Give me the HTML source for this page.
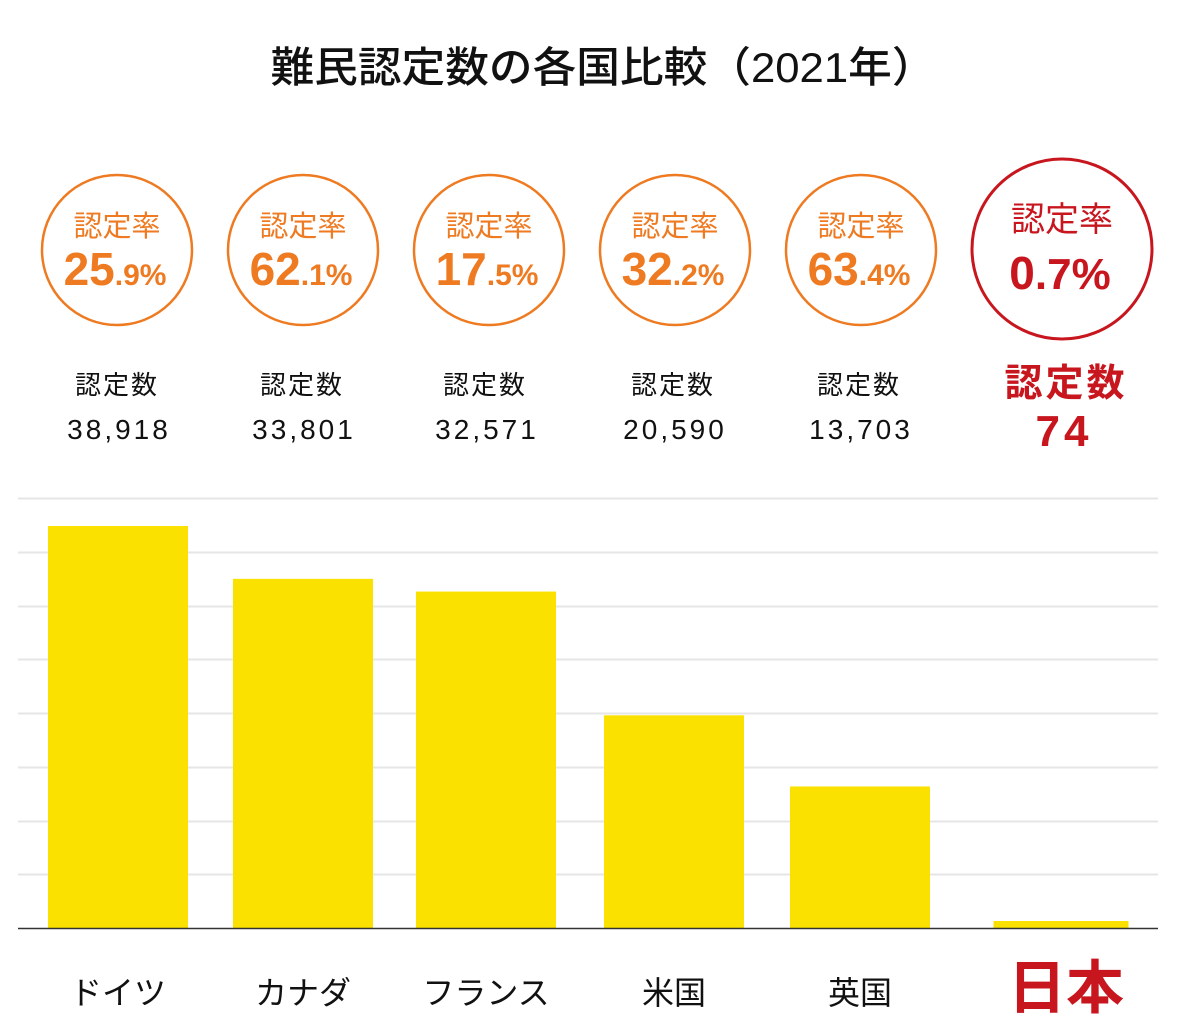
<!DOCTYPE html>
<html><head><meta charset="utf-8"><style>
body{margin:0;background:#fff;}
svg{display:block;font-family:"Liberation Sans","Noto Sans CJK JP",sans-serif;}
</style></head><body>
<svg id="c" width="1179" height="1035" viewBox="0 0 1179 1035">
<text x="603" y="82" text-anchor="middle" font-size="42" font-weight="500" fill="#111" textLength="665" lengthAdjust="spacingAndGlyphs">難民認定数の各国比較（2021年）</text>
<g id="grid"></g><g id="bars"></g><g id="circles"></g><g id="labels"></g>
<line x1="18" x2="1158" y1="928.5" y2="928.5" stroke="#333" stroke-width="1.5"/>
</svg>
<script>
const countries=["ドイツ","カナダ","フランス","米国","英国","日本"];
const counts=[38918,33801,32571,20590,13703,74];
const countLabels=["38,918","33,801","32,571","20,590","13,703","74"];
const rateInt=["25","62","17","32","63","0"];
const rateDec=[".9%",".1%",".5%",".2%",".4%",".7%"];
const gridVals=[5000,10000,15000,20000,25000,30000,35000,40000];
const NS="http://www.w3.org/2000/svg";
const base=928, plotH=402, maxV=38918;
const y=v=>base-v/maxV*plotH;
const cx=[118,303,486,674,860,1061];
const barW=[140,140,140,140,140,135];
function mk(t,a,p){const e=document.createElementNS(NS,t);for(const k in a)e.setAttribute(k,a[k]);p.appendChild(e);return e;}
const grid=document.getElementById('grid');
gridVals.forEach(v=>{const gy=Math.round(base-v/40000*430)+0.5;
const l=mk('line',{x1:18,x2:1158,y1:gy,y2:gy,stroke:'#e6e6e6','stroke-width':2},grid);

});
const bars=document.getElementById('bars'),circ=document.getElementById('circles'),lab=document.getElementById('labels');
counts.forEach((v,i)=>{
 const jp=i===5;
 const h=Math.max(base-y(v),7);
 const r=mk('rect',{x:cx[i]-barW[i]/2,y:base-h,width:barW[i],height:h,fill:'#fbe100'},bars);
 
 
 const col=jp?'#c8161e':'#ee7a21';
 const ccx=jp?1062:[117,303,489,675,861][i], cy=jp?249:250, rad=jp?90:75;
 const c=mk('circle',{cx:ccx,cy:cy,r:rad,fill:'none',stroke:col,'stroke-width':jp?3:2.5},circ);
 
 
 const t1=mk('text',{x:ccx,y:jp?231:236,'text-anchor':'middle','font-size':jp?34:29,fill:col},circ);
 t1.textContent='認定率';
 
 
 const t2=mk('text',{x:ccx-2,y:jp?289:285,'text-anchor':'middle',fill:col,'font-weight':'bold'},circ);
 
 
 const s1=mk('tspan',{'font-size':jp?46:46},t2);s1.textContent=rateInt[i];
 const s2=mk('tspan',{'font-size':jp?44:30},t2);s2.textContent=rateDec[i];
 const t3=mk('text',{x:jp?1066:cx[i]-1,y:jp?396:394,'text-anchor':'middle','font-size':jp?38:26,fill:jp?col:'#111','font-weight':jp?'bold':'normal','letter-spacing':jp?3:2},lab);
 t3.textContent='認定数';
 
 
 const t4=mk('text',{x:jp?1064:cx[i]+1,y:jp?446:439,'text-anchor':'middle','font-size':jp?44:28,fill:jp?col:'#111','font-weight':jp?'bold':'normal','letter-spacing':jp?4:3},lab);
 t4.textContent=countLabels[i];
 
 
 const t5=mk('text',{x:jp?1066:cx[i],y:jp?1008:1004,'text-anchor':'middle','font-size':jp?58:32,fill:jp?col:'#111','font-weight':jp?'bold':'normal'},lab);
 t5.textContent=countries[i];
 
 
});
</script>
</body></html>
